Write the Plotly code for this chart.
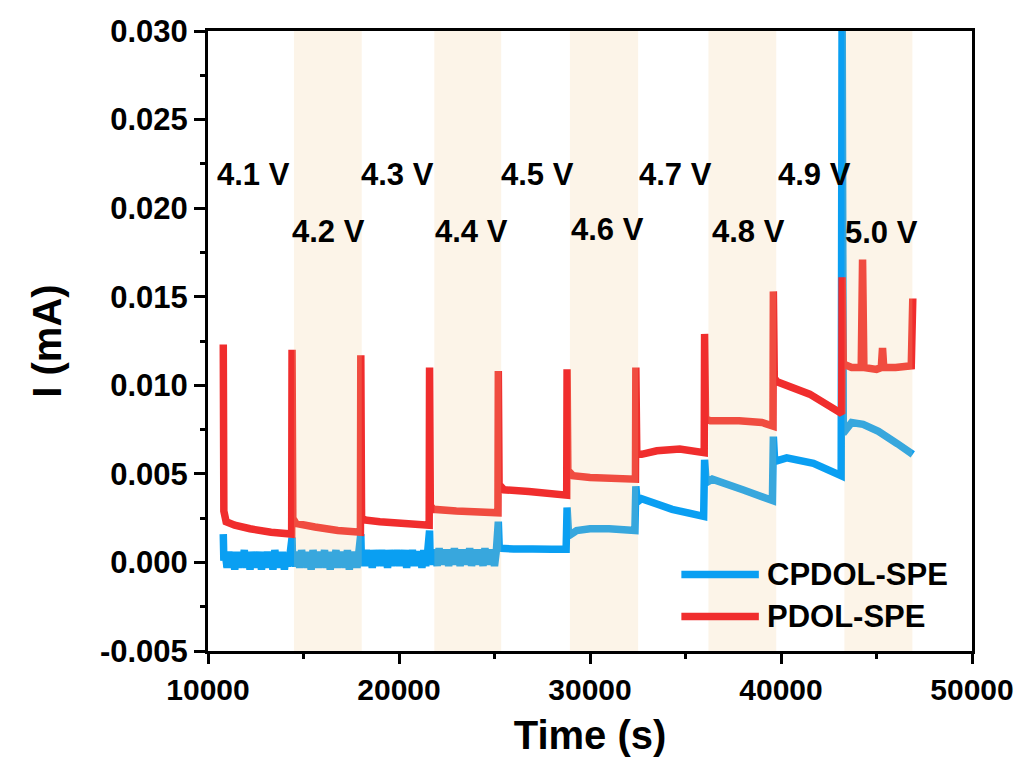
import plotly.graph_objects as go

# ---------------- data ----------------
# CPDOL-SPE current vs time (s, mA); the 4.1-4.4 V steps are noisy
cpdol_time = [
    # 4.1 V
    10800, 10830,
    10900, 11000, 11100, 11200, 11300, 11400, 11500, 11600, 11700, 11800,
    11900, 12000, 12100, 12200, 12300, 12400, 12500, 12600, 12700, 12800,
    12900, 13000, 13100, 13200, 13300, 13400, 13500, 13600, 13700, 13800,
    13900, 14000, 14100, 14200, 14300,
    # 4.2 V
    14400, 14430,
    14500, 14600, 14700, 14800, 14900, 15000, 15100, 15200, 15300, 15400,
    15500, 15600, 15700, 15800, 15900, 16000, 16100, 16200, 16300, 16400,
    16500, 16600, 16700, 16800, 16900, 17000, 17100, 17200, 17300, 17400,
    17500, 17600, 17700, 17800, 17900,
    # 4.3 V
    18000, 18030,
    18100, 18200, 18300, 18400, 18500, 18600, 18700, 18800, 18900, 19000,
    19100, 19200, 19300, 19400, 19500, 19600, 19700, 19800, 19900, 20000,
    20100, 20200, 20300, 20400, 20500, 20600, 20700, 20800, 20900, 21000,
    21100, 21200, 21300, 21400, 21500,
    # 4.4 V
    21600, 21630,
    21700, 21800, 21900, 22000, 22100, 22200, 22300, 22400, 22500, 22600,
    22700, 22800, 22900, 23000, 23100, 23200, 23300, 23400, 23500, 23600,
    23700, 23800, 23900, 24000, 24100, 24200, 24300, 24400, 24500, 24600,
    24700, 24800, 24900, 25000, 25100,
    # 4.5 V
    25200, 25250, 26000, 27000, 28000, 28750,
    # 4.6 V
    28800, 28880, 29300, 30000, 31000, 32350,
    # 4.7 V
    32400, 32470, 32700, 34300, 35950,
    # 4.8 V
    36000, 36080, 36400, 38000, 39550,
    # 4.9 V
    39600, 39670, 40300, 41700, 43150,
    # 5.0 V
    43200, 43260, 43700, 44300, 45100, 46100, 46900,
]
cpdol_current = [
    # 4.1 V
    0.0016, 0.0001,
    0.0005, -0.0003, 0.0006, -0.0002, 0.0004, -0.0004, 0.0006, -0.0003, 0.0005, -0.0002,
    0.0007, -0.0003, 0.0004, -0.0004, 0.0006, -0.0002, 0.0005, -0.0003, 0.0006, -0.0004,
    0.0004, -0.0002, 0.0006, -0.0003, 0.0005, -0.0004, 0.0007, -0.0002, 0.0005, -0.0003,
    0.0006, -0.0004, 0.0004, -0.0002, 0.0005,
    # 4.2 V
    0.0014, 0.0001,
    0.0006, -0.0002, 0.0005, -0.0003, 0.0007, -0.0002, 0.0005, -0.0003, 0.0006, -0.0004,
    0.0007, -0.0002, 0.0005, -0.0003, 0.0006, -0.0002, 0.0007, -0.0003, 0.0005, -0.0004,
    0.0006, -0.0002, 0.0007, -0.0003, 0.0005, -0.0002, 0.0006, -0.0003, 0.0007, -0.0004,
    0.0005, -0.0002, 0.0006, -0.0003, 0.0006,
    # 4.3 V
    0.0016, 0.0002,
    0.0006, -0.0002, 0.0007, -0.0001, 0.0005, -0.0003, 0.0007, -0.0002, 0.0006, -0.0001,
    0.0007, -0.0002, 0.0005, -0.0003, 0.0007, -0.0002, 0.0006, -0.0001, 0.0007, -0.0002,
    0.0005, -0.0002, 0.0007, -0.0003, 0.0006, -0.0001, 0.0007, -0.0002, 0.0005, -0.0002,
    0.0006, -0.0003, 0.0007, -0.0002, 0.0006,
    # 4.4 V
    0.0018, 0.0003,
    0.0007, -0.0001, 0.0006, -0.0002, 0.0008, -0.0001, 0.0006, 0.0000, 0.0007, -0.0002,
    0.0006, -0.0001, 0.0008, -0.0001, 0.0006, -0.0002, 0.0007, 0.0000, 0.0006, -0.0001,
    0.0008, -0.0002, 0.0007, -0.0001, 0.0006, 0.0000, 0.0007, -0.0002, 0.0008, -0.0001,
    0.0006, -0.0001, 0.0007, -0.0002, 0.0007,
    # 4.5 V
    0.0023, 0.0008, 0.00076, 0.00076, 0.00075, 0.00075,
    # 4.6 V
    0.0031, 0.0015, 0.0018, 0.0019, 0.0019, 0.0018,
    # 4.7 V
    0.0043, 0.0034, 0.0036, 0.0030, 0.0026,
    # 4.8 V
    0.0058, 0.0045, 0.0047, 0.0041, 0.0035,
    # 4.9 V
    0.0071, 0.0057, 0.0059, 0.0056, 0.0049,
    # 5.0 V
    0.0320, 0.0073, 0.0079, 0.0078, 0.0074, 0.0067, 0.0061,
]

# inner envelope of the noisy CPDOL-SPE steps (4.1-4.4 V)
noise_start = [10850, 14450, 18050, 21650]
noise_end = [14320, 17920, 21520, 25120]
noise_upper = [0.0005, 0.0005, 0.0006, 0.0007]
noise_lower = [-0.0002, -0.0002, -0.0001, -0.0001]

# PDOL-SPE current vs time (s, mA)
pdol_time = [
    10800, 10830, 10950, 11400, 12200, 13300, 14380,          # 4.1 V
    14400, 14440, 14600, 15600, 16800, 17980,                 # 4.2 V
    18000, 18040, 18200, 19000, 20300, 21580,                 # 4.3 V
    21600, 21640, 21800, 23000, 25180,                        # 4.4 V
    25200, 25240, 25500, 26800, 28780,                        # 4.5 V
    28800, 28840, 29100, 30000, 32380,                        # 4.6 V
    32400, 32450, 32700, 33500, 34700, 35980,                 # 4.7 V
    36000, 36050, 36300, 37800, 39000, 39580,                 # 4.8 V
    39600, 39650, 39800, 41500, 43180,                        # 4.9 V
    43200, 43260, 43700, 44200, 44270, 44340, 45000, 45250,   # 5.0 V
    45315, 45380, 46000, 46820, 46900,
]
pdol_current = [
    0.0123, 0.0029, 0.0023, 0.0021, 0.0019, 0.0017, 0.0016,
    0.0120, 0.0025, 0.0022, 0.0020, 0.0018, 0.0017,
    0.0117, 0.0026, 0.0024, 0.0023, 0.0022, 0.0021,
    0.0110, 0.0032, 0.0030, 0.0029, 0.0028,
    0.0108, 0.0044, 0.0041, 0.0040, 0.0038,
    0.0109, 0.0052, 0.0049, 0.0048, 0.0047,
    0.0110, 0.0061, 0.0061, 0.0063, 0.0064, 0.0062,
    0.0129, 0.0081, 0.0080, 0.0080, 0.0079, 0.0077,
    0.0153, 0.0104, 0.0102, 0.0095, 0.0084,
    0.0161, 0.0112, 0.0110, 0.0110, 0.0171, 0.0110, 0.0109, 0.0110,
    0.0121, 0.0110, 0.0110, 0.0111, 0.0149,
]

# shaded voltage-step bands (s)
band_starts = [14500, 21850, 28950, 36200, 43320]
band_ends = [18050, 25350, 32520, 39750, 46880]

# voltage labels and their positions (s, mA)
step_labels = ["4.1 V", "4.2 V", "4.3 V", "4.4 V", "4.5 V",
               "4.6 V", "4.7 V", "4.8 V", "4.9 V", "5.0 V"]
label_time = [12360, 16330, 19930, 23780, 27270, 30910, 34450, 38300, 41740, 45280]
label_current = [0.0219, 0.0187, 0.0219, 0.0187, 0.0219,
                 0.0188, 0.0219, 0.0187, 0.0219, 0.0186]

x_tick_values = [10000, 20000, 30000, 40000, 50000]
x_tick_labels = ["10000", "20000", "30000", "40000", "50000"]
x_minor_values = [15000, 25000, 35000, 45000]
y_tick_values = [-0.005, 0.000, 0.005, 0.010, 0.015, 0.020, 0.025, 0.030]
y_tick_labels = ["-0.005", "0.000", "0.005", "0.010", "0.015", "0.020", "0.025", "0.030"]
y_minor_values = [-0.0025, 0.0025, 0.0075, 0.0125, 0.0175, 0.0225, 0.0275]

series_names = ["CPDOL-SPE", "PDOL-SPE"]

# ---------------- styling ----------------
BLUE = "#0A9FF2"
RED = "#F02D2D"
FONT = "Liberation Sans, Arial, sans-serif"
LW = 7.5

fig = go.Figure()

# solid core of the noisy band
for xs, xe, yu, yl in zip(noise_start, noise_end, noise_upper, noise_lower):
    fig.add_trace(go.Scatter(x=[xs, xe, xe, xs, xs], y=[yu, yu, yl, yl, yu],
                             mode="lines", fill="toself", fillcolor=BLUE,
                             line=dict(color=BLUE, width=2), showlegend=False,
                             hoverinfo="skip", name=series_names[0]))

fig.add_trace(go.Scatter(x=cpdol_time, y=cpdol_current, mode="lines",
                         name=series_names[0], showlegend=False,
                         line=dict(color=BLUE, width=LW, simplify=False)))
fig.add_trace(go.Scatter(x=pdol_time, y=pdol_current, mode="lines",
                         name=series_names[1], showlegend=False,
                         line=dict(color=RED, width=LW, simplify=False)))

# translucent beige bands drawn over the curves
for x0, x1 in zip(band_starts, band_ends):
    fig.add_shape(type="rect", xref="x", yref="paper", x0=x0, x1=x1, y0=0, y1=1,
                  fillcolor="rgba(240,200,140,0.2)", line=dict(width=0), layer="above")

# manual legend (long line samples)
for name, color, yp in zip(series_names, [BLUE, RED], [0.1234, 0.0557]):
    fig.add_shape(type="line", xref="paper", yref="paper", x0=0.6196, x1=0.7210,
                  y0=yp, y1=yp, line=dict(color=color, width=7.5), layer="above")
    fig.add_annotation(xref="paper", yref="paper", x=0.7297, y=yp, text=name,
                       showarrow=False, xanchor="left", yanchor="middle",
                       font=dict(family=FONT, size=31, color="black", weight="bold"))

for txt, xv, yv in zip(step_labels, label_time, label_current):
    fig.add_annotation(x=xv, y=yv, text=txt, showarrow=False,
                       xanchor="center", yanchor="middle",
                       font=dict(family=FONT, size=31, color="black", weight="bold"))

axis_common = dict(showline=True, linecolor="black", linewidth=3, mirror=True,
                   ticks="outside", tickwidth=3, tickcolor="black",
                   showgrid=False, zeroline=False)

fig.update_xaxes(range=[10000, 50000], tickmode="array", tickvals=x_tick_values,
                 ticktext=x_tick_labels, ticklen=10,
                 tickfont=dict(family=FONT, size=30, color="black", weight="bold"),
                 minor=dict(tickmode="array", tickvals=x_minor_values, ticklen=5,
                            tickwidth=3, ticks="outside", tickcolor="black"),
                 title=dict(text="Time (s)", standoff=16,
                            font=dict(family=FONT, size=40, color="black", weight="bold")),
                 **axis_common)
fig.update_yaxes(range=[-0.005, 0.030], tickmode="array", tickvals=y_tick_values,
                 ticktext=y_tick_labels, ticklen=11,
                 tickfont=dict(family=FONT, size=31, color="black", weight="bold"),
                 minor=dict(tickmode="array", tickvals=y_minor_values, ticklen=5,
                            tickwidth=3, ticks="outside", tickcolor="black"),
                 title=dict(text="I (mA)", standoff=26,
                            font=dict(family=FONT, size=40, color="black", weight="bold")),
                 **axis_common)

fig.update_layout(width=1026, height=769,
                  margin=dict(l=208, r=48, t=31, b=118, pad=0),
                  plot_bgcolor="white", paper_bgcolor="white",
                  showlegend=False)

fig.write_html("out.html")
